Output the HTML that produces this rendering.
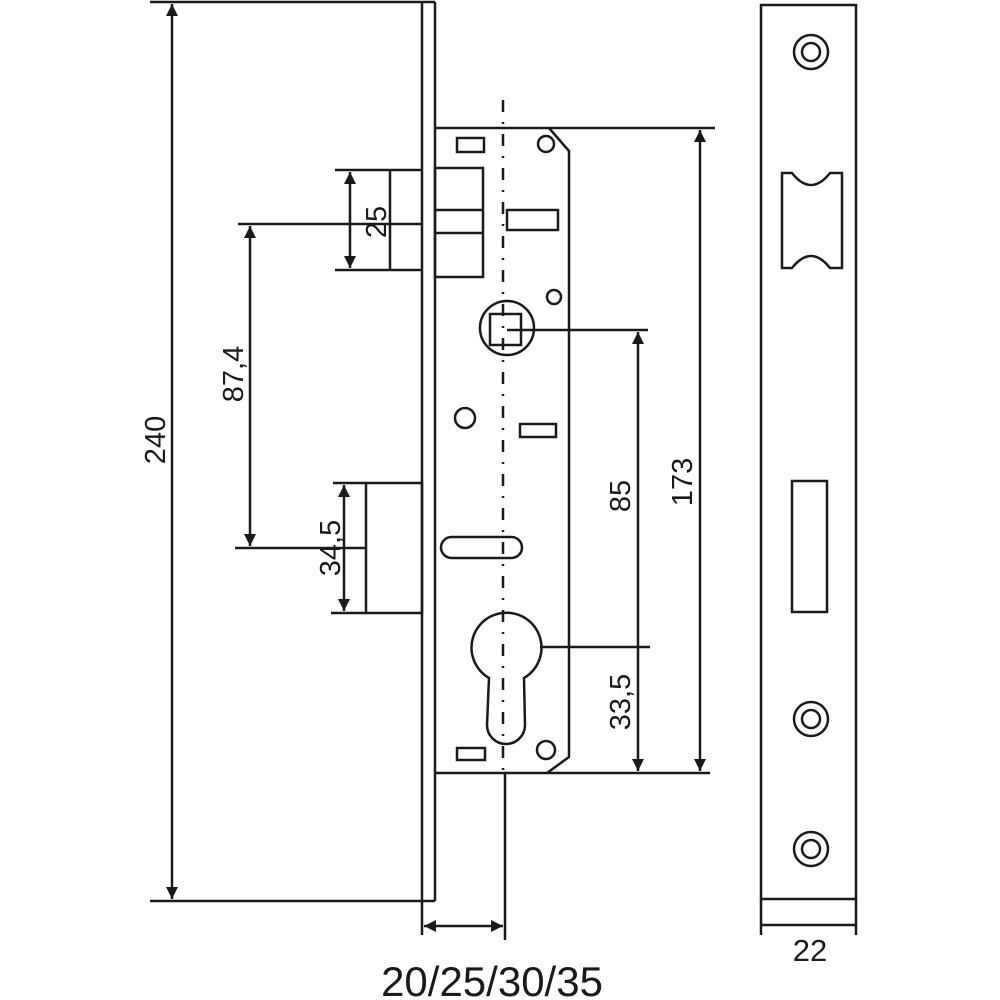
<!DOCTYPE html>
<html><head><meta charset="utf-8"><style>
html,body{margin:0;padding:0;background:#fff;}
svg{display:block;}
text{font-family:"Liberation Sans",Arial,sans-serif;fill:#1a1a1a;}
</style></head><body>
<svg width="1000" height="1000" viewBox="0 0 1000 1000" xmlns="http://www.w3.org/2000/svg">
<defs>
<marker id="a" viewBox="0 0 10 10" refX="10" refY="5" markerWidth="13" markerHeight="12" markerUnits="userSpaceOnUse" orient="auto-start-reverse"><path d="M0,0 L10,5 L0,10 z" fill="#1a1a1a"/></marker>
</defs>
<g stroke="#1a1a1a" stroke-width="2.5" fill="none">
<line x1="150" y1="2" x2="435" y2="2"/>
<line x1="422" y1="2" x2="422" y2="935"/>
<line x1="435" y1="2" x2="435" y2="901"/>
<line x1="150" y1="901" x2="435" y2="901"/>
<line x1="172" y1="4" x2="172" y2="899" marker-start="url(#a)" marker-end="url(#a)"/>
<line x1="435" y1="128" x2="715" y2="128"/>
<polyline points="549,128 569,151 569,757 547,773"/>
<line x1="435" y1="773" x2="710" y2="773"/>
<line x1="503" y1="100" x2="503" y2="773" stroke-dasharray="12,10,2,10"/>
<line x1="505" y1="773" x2="505" y2="940"/>
<rect x="435" y="168" width="48" height="109"/>
<line x1="435" y1="210" x2="483" y2="210"/>
<line x1="435" y1="233" x2="483" y2="233"/>
<line x1="335" y1="170" x2="422" y2="170"/>
<line x1="335" y1="270" x2="422" y2="270"/>
<line x1="390" y1="170" x2="390" y2="270"/>
<line x1="350" y1="172" x2="350" y2="268" marker-start="url(#a)" marker-end="url(#a)"/>
<line x1="238" y1="224" x2="422" y2="224"/>
<line x1="250" y1="226" x2="250" y2="546" marker-start="url(#a)" marker-end="url(#a)"/>
<rect x="366" y="483" width="56" height="130"/>
<line x1="333" y1="483" x2="366" y2="483"/>
<line x1="331" y1="613" x2="366" y2="613"/>
<line x1="235" y1="548" x2="366" y2="548"/>
<line x1="344" y1="485" x2="344" y2="611" marker-start="url(#a)" marker-end="url(#a)"/>
<rect x="457" y="138" width="27" height="14"/>
<rect x="507" y="210" width="51" height="20"/>
<rect x="520" y="424" width="36" height="13"/>
<rect x="457" y="748" width="28" height="12"/>
<circle cx="546" cy="144" r="8"/>
<circle cx="554" cy="297" r="7"/>
<circle cx="465" cy="418" r="10"/>
<circle cx="546" cy="750" r="9"/>
<circle cx="507" cy="328" r="27"/>
<rect x="490" y="314" width="31" height="31"/>
<line x1="507" y1="330" x2="648" y2="330"/>
<rect x="441" y="537" width="81" height="21" rx="10.5"/>
<path d="M489,678 A35,35 0 1 1 524,678 L525,725 A19,19 0 0 1 487,725 Z"/>
<line x1="540" y1="647" x2="650" y2="647"/>
<line x1="638" y1="332" x2="638" y2="771" marker-start="url(#a)" marker-end="url(#a)"/>
<line x1="700" y1="130" x2="700" y2="771" marker-start="url(#a)" marker-end="url(#a)"/>
<line x1="424" y1="926" x2="503" y2="926" marker-start="url(#a)" marker-end="url(#a)"/>
<rect x="761" y="5" width="95" height="894"/>
<line x1="761" y1="899" x2="761" y2="935"/>
<line x1="856" y1="899" x2="856" y2="935"/>
<line x1="761" y1="925" x2="856" y2="925"/>
<circle cx="811" cy="52" r="17"/><circle cx="811" cy="52" r="9"/>
<circle cx="811" cy="719" r="17"/><circle cx="811" cy="719" r="9"/>
<circle cx="811" cy="849" r="17"/><circle cx="811" cy="849" r="9"/>
<path d="M782,173 L792,173 Q811,197 830,173 L842,173 L842,268 L830,268 Q811,244 792,268 L782,268 Z"/>
<rect x="792" y="481" width="35" height="131"/>
</g>
<g font-size="29">
<text transform="translate(165,440) rotate(-90)" text-anchor="middle">240</text>
<text transform="translate(386,222) rotate(-90)" text-anchor="middle">25</text>
<text transform="translate(243,374) rotate(-90)" text-anchor="middle">87,4</text>
<text transform="translate(340,548) rotate(-90)" text-anchor="middle">34,5</text>
<text transform="translate(630,496) rotate(-90)" text-anchor="middle">85</text>
<text transform="translate(692,482) rotate(-90)" text-anchor="middle">173</text>
<text transform="translate(630,702) rotate(-90)" text-anchor="middle">33,5</text>
<text x="810" y="961" text-anchor="middle" font-size="31">22</text>
</g>
<text x="492" y="996" text-anchor="middle" font-size="42">20/25/30/35</text>
</svg>
</body></html>
